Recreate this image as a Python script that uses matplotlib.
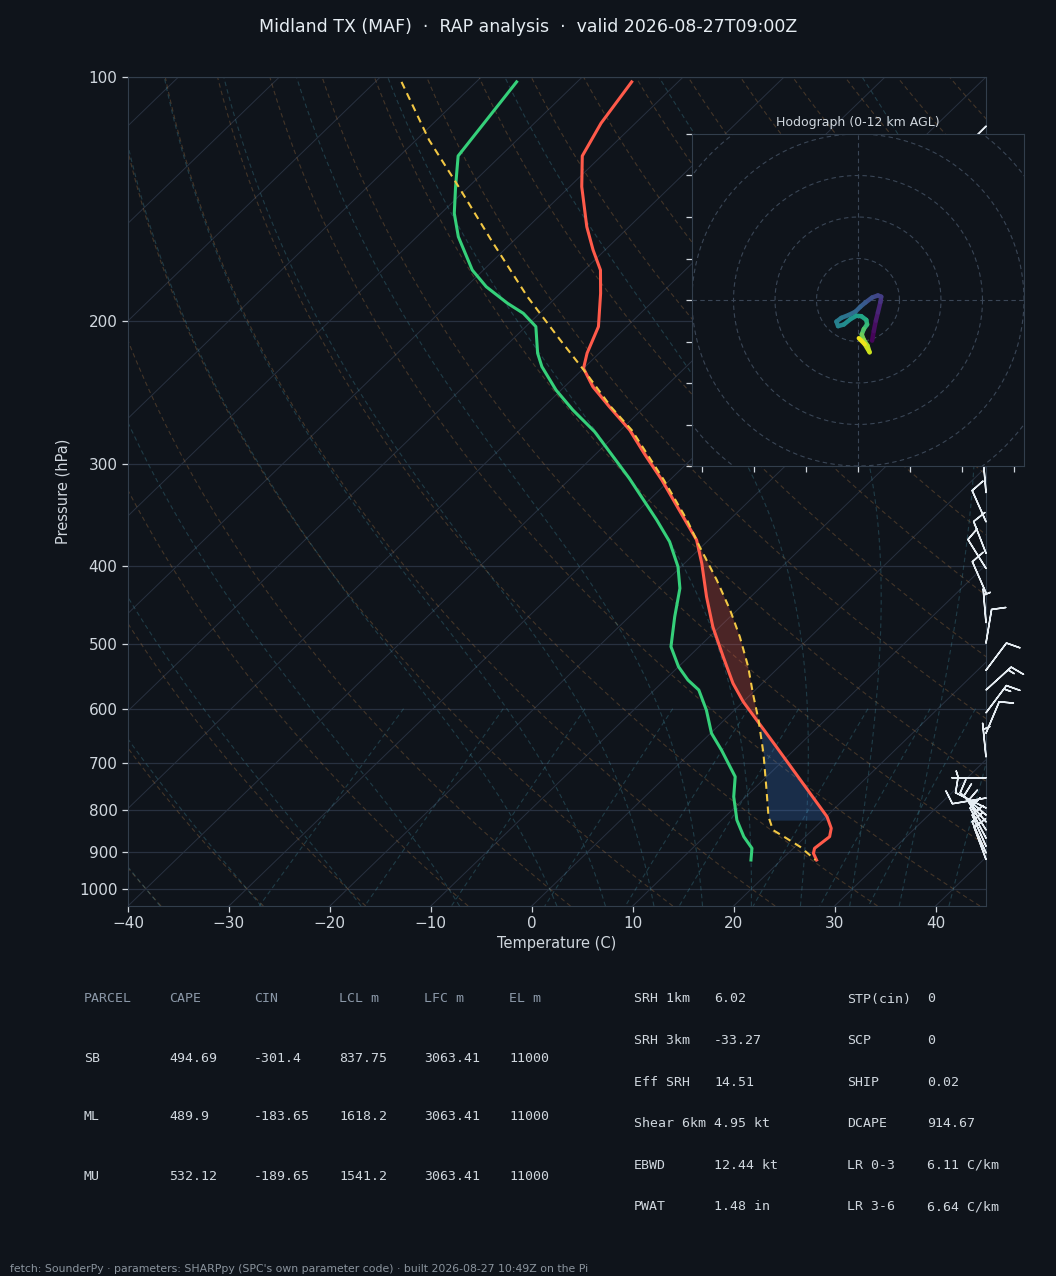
import numpy as np
import matplotlib
matplotlib.use('Agg')
import matplotlib.pyplot as plt
from matplotlib.collections import LineCollection
from matplotlib.ticker import FixedLocator, NullLocator, FixedFormatter

# ---- sounding ----
pres_t = [101.4, 114.0, 125.1, 136.5, 152.9, 163.3, 172.9, 184.7, 203.0, 218.9, 228.5,
          240.7, 254.8, 272.2, 292.2, 313.6, 351.3, 371.8, 397.2, 436.7, 475.5, 517.7,
          558.3, 588.2, 622.5, 661.9, 734.5, 815.1, 842.3, 862.6, 891.5, 904.2, 921.6]
temp = [-74.6, -73.4, -71.9, -68.8, -64.2, -61.2, -58.4, -56.0, -52.8, -51.2, -50.0,
        -47.2, -43.5, -39.1, -35.0, -30.8, -24.4, -21.2, -18.3, -14.4, -10.7, -6.6,
        -2.9, 0.0, 3.5, 7.3, 13.7, 20.1, 21.7, 22.4, 22.1, 22.5, 23.5]

pres_td = [101.4, 125.1, 136.5, 147.2, 157.3, 172.9, 181.3, 190.0, 195.5, 203.0, 218.9,
           227.4, 243.0, 257.1, 273.5, 312.1, 351.3, 373.6, 401.1, 426.4, 462.2, 503.2,
           532.6, 553.1, 569.0, 602.2, 643.4, 674.6, 727.7, 770.1, 822.7, 862.6, 891.5, 921.6]
dewp = [-86.0, -84.2, -81.3, -78.7, -75.9, -71.1, -68.0, -64.2, -61.6, -59.0, -56.1,
        -54.3, -50.5, -46.8, -42.4, -34.2, -27.2, -23.7, -20.3, -17.9, -15.5, -12.8,
        -10.0, -7.7, -5.6, -2.8, 0.1, 2.8, 6.9, 8.8, 11.5, 13.9, 15.9, 17.0]

pres_parcel = [101.4, 119.6, 136.5, 158.8, 186.5, 210.9, 230.7, 255.0, 272.2, 313.6, 351.3,
               379.0, 416.5, 453.5, 489.2, 532.6, 574.4, 619.6, 681.0, 748.6, 815.1, 846.4,
               866.6, 887.5, 921.6]
parcel = [-97.4, -88.7, -81.0, -72.3, -62.9, -55.2, -49.5, -43.3, -38.9, -30.6, -24.2,
          -20.2, -15.1, -10.7, -7.0, -3.1, 0.1, 3.4, 7.3, 11.0, 14.3, 16.1,
          18.3, 20.5, 23.4]
lcl_p = 823

# wind barbs (kt)
barb_p = [115, 140, 170, 200, 230, 260, 290, 325, 353, 386, 403, 432, 470, 498, 538, 569,
          607, 643, 688, 730, 773, 795, 811, 827, 846, 866, 886, 903, 920]
barb_u = [5.5, 2, 1, 3, 2, 1, 0.5, 0.5, 4, 3.5, 5, 3.5, 0.5, -1.5, -6, -11,
          -9, -4, 0.5, 5, 10, 8, 7, 6, 5, 4.5, 4, 4, 3.5]
barb_v = [5.5, -9, -10, -12, -11, -9, -8, -6, -9, -9, -8, -8, -6, -9, -8, -10,
          -12, -9.5, -5, 0, 1.7, -4, -6, -7, -8, -8.5, -9, -9, -9.5]

# hodograph 0-12 km (kt)
hodo_z = [0.0, 0.3, 0.6, 1.0, 1.5, 2.0, 2.3, 2.7, 3.1, 3.5, 3.9, 4.3, 4.7, 5.0, 5.3, 5.6,
          6.0, 6.4, 6.8, 7.3, 7.8, 8.4, 9.0, 9.6, 10.2, 10.8, 11.4, 12.0]
hodo_u = [3.4, 3.8, 4.3, 4.8, 5.4, 5.6, 4.8, 3.4, 1.8, 0.6, -0.6, -2.2, -4.0, -5.2, -4.8, -3.4,
          -1.8, -0.4, 0.8, 2.0, 2.2, 1.4, 0.9, 1.4, 2.3, 2.8, 1.6, 0.2]
hodo_v = [-9.8, -7.5, -5.0, -3.0, -0.5, 0.8, 1.1, 0.6, -0.6, -1.6, -2.8, -3.6, -4.3, -5.2, -6.3, -5.9,
          -4.6, -3.8, -3.9, -4.8, -5.9, -7.0, -8.3, -9.6, -11.0, -12.6, -10.6, -9.2]

parcel_rows = [['SB', '494.69', '-301.4', '837.75', '3063.41', '11000'],
               ['ML', '489.9', '-183.65', '1618.2', '3063.41', '11000'],
               ['MU', '532.12', '-189.65', '1541.2', '3063.41', '11000']]
parcel_head = ['PARCEL', 'CAPE', 'CIN', 'LCL m', 'LFC m', 'EL m']
params_a = [('SRH 1km', '6.02'), ('SRH 3km', '-33.27'), ('Eff SRH', '14.51'),
            ('Shear 6km', '4.95 kt'), ('EBWD', '12.44 kt'), ('PWAT', '1.48 in')]
params_b = [('STP(cin)', '0'), ('SCP', '0'), ('SHIP', '0.02'),
            ('DCAPE', '914.67'), ('LR 0-3', '6.11 C/km'), ('LR 3-6', '6.64 C/km')]

BG = '#0f141b'
FG = '#d0d7de'
GRID = '#283140'
SPINE = '#323e4c'

P_BOT, P_TOP = 1050.0, 100.0
T_L, T_R = -40.0, 45.0


def skew(t, p):
    p = np.asarray(p, dtype=float)
    return np.asarray(t, dtype=float) + (T_R - T_L) * np.log(P_BOT / p) / np.log(P_BOT / P_TOP)


fig = plt.figure(figsize=(10.56, 12.76), dpi=100, facecolor=BG)
ax = fig.add_axes([128 / 1056, 1 - 906 / 1276, 858 / 1056, 829 / 1276], facecolor=BG)
ax.set_yscale('log')
ax.set_ylim(P_BOT, P_TOP)
ax.set_xlim(T_L, T_R)

pp = np.geomspace(P_BOT, P_TOP, 120)
# isotherms
for t0 in range(-130, 50, 10):
    ax.plot(skew(t0, pp), pp, color=GRID, lw=0.7, zorder=1)
for pl in range(100, 1001, 100):
    ax.axhline(pl, color=GRID, lw=0.9, zorder=1)
# dry adiabats
for th in np.arange(-40, 246, 10):
    tk = (th + 273.15) * (pp / 1000.0) ** 0.2857 - 273.15
    ax.plot(skew(tk, pp), pp, color='#c98a4a', alpha=0.28, lw=0.8, ls=(0, (4, 3)), zorder=1)


# moist adiabats
def dtdp(T, p):
    es = 6.112 * np.exp(17.67 * (T - 273.15) / (T - 29.65))
    rs = 0.622 * es / (p - es)
    return (287.04 * T + 2.501e6 * rs) / (1005.7 + 2.501e6 ** 2 * rs * 0.622 / (287.04 * T * T)) / p


def moist(t0):
    out = {}
    for pend in (P_TOP, P_BOT):
        ps = np.linspace(1000.0, pend, 200)
        T = t0 + 273.15
        res = [T]
        for i in range(len(ps) - 1):
            dp = ps[i + 1] - ps[i]
            k1 = dtdp(T, ps[i])
            k2 = dtdp(T + k1 * dp, ps[i + 1])
            T = T + 0.5 * (k1 + k2) * dp
            res.append(T)
        out[pend] = (ps, np.array(res) - 273.15)
    ps = np.concatenate([out[P_BOT][0][::-1], out[P_TOP][0][1:]])
    ts = np.concatenate([out[P_BOT][1][::-1], out[P_TOP][1][1:]])
    return ps, ts


for t0 in list(range(-40, 0, 10)) + list(range(0, 50, 5)):
    ps, ts = moist(t0)
    ax.plot(skew(ts, ps), ps, color='#4aa3b8', alpha=0.28, lw=0.8, ls=(0, (4, 3)), zorder=1)

# mixing ratio lines
pm = np.linspace(600, P_BOT, 50)
for w in [0.0004, 0.001, 0.002, 0.004, 0.007, 0.01, 0.016, 0.024, 0.032]:
    e = pm * w / (0.622 + w)
    lne = np.log(e / 6.112)
    td = 243.5 * lne / (17.67 - lne)
    ax.plot(skew(td, pm), pm, color='#4aa3b8', alpha=0.28, lw=0.8, ls=(0, (4, 3)), zorder=1)

# CAPE / CIN shading
pc = np.geomspace(lcl_p, 600, 300)
te = np.interp(np.log(pc), np.log(pres_t), temp)
tp = np.interp(np.log(pc), np.log(pres_parcel), parcel)
ax.fill_betweenx(pc, skew(tp, pc), skew(te, pc), where=tp < te, color='#3a7bd5',
                 alpha=0.25, lw=0, zorder=2)
pa = np.geomspace(650, 220, 400)
te = np.interp(np.log(pa), np.log(pres_t), temp)
tp = np.interp(np.log(pa), np.log(pres_parcel), parcel)
ax.fill_betweenx(pa, skew(tp, pa), skew(te, pa), where=tp > te, color='#ff5a4a',
                 alpha=0.25, lw=0, zorder=2)

ax.plot(skew(temp, pres_t), pres_t, color='#ff5a4a', lw=2.2, zorder=4)
ax.plot(skew(dewp, pres_td), pres_td, color='#35d07a', lw=2.2, zorder=4)
ax.plot(skew(parcel, pres_parcel), pres_parcel, color='#f2c744', lw=1.5, ls=(0, (3.5, 2.5)), zorder=5)

ax.barbs(np.ones(len(barb_p)), barb_p, barb_u, barb_v, transform=ax.get_yaxis_transform(),
         clip_on=False, color='#e6edf3', length=7, linewidth=1.1, zorder=6)

yt = list(range(100, 1001, 100))
ax.yaxis.set_major_locator(FixedLocator(yt))
ax.yaxis.set_major_formatter(FixedFormatter([str(v) for v in yt]))
ax.yaxis.set_minor_locator(NullLocator())
ax.set_xticks(range(-40, 41, 10))
ax.tick_params(colors=FG, labelsize=11, length=4, width=0.9)
for s in ax.spines.values():
    s.set_color(SPINE)
ax.set_xlabel('Temperature (C)', color=FG, fontsize=10.5, labelpad=3)
ax.set_ylabel('Pressure (hPa)', color=FG, fontsize=10.5, labelpad=6)

fig.text(0.5, 1 - 27 / 1276, 'Midland TX (MAF)  \u00b7  RAP analysis  \u00b7  valid 2026-08-27T09:00Z',
         ha='center', va='center', color='#e6edf3', fontsize=12.5)

# hodograph
hx = fig.add_axes([692 / 1056, 1 - 466 / 1276, 332 / 1056, 332 / 1276], facecolor=BG)
hx.set_xlim(-40, 40)
hx.set_ylim(-40, 40)
th = np.linspace(0, 2 * np.pi, 300)
for r in range(10, 61, 10):
    hx.plot(r * np.cos(th), r * np.sin(th), color='#3a4656', lw=0.8, ls=(0, (4, 3)))
hx.axhline(0, color='#3a4656', lw=0.8, ls=(0, (4, 3)))
hx.axvline(0, color='#3a4656', lw=0.8, ls=(0, (4, 3)))
pts = np.column_stack([hodo_u, hodo_v]).reshape(-1, 1, 2)
segs = np.concatenate([pts[:-1], pts[1:]], axis=1)
lc = LineCollection(segs, cmap='viridis', linewidths=3.2, capstyle='round')
lc.set_array(np.array(hodo_z[:-1]) + np.diff(hodo_z) / 2)
lc.set_clim(0, 12)
hx.add_collection(lc)
hx.set_yticks(range(-40, 41, 10))
hx.set_xticks(np.arange(-37.5, 38, 12.5))
hx.set_xticklabels([])
hx.set_yticklabels([])
hx.tick_params(colors=FG, length=4, width=0.9)
for s in hx.spines.values():
    s.set_color(SPINE)
hx.set_title('Hodograph (0-12 km AGL)', color=FG, fontsize=9, pad=6)


def px(x, y):
    return x / 1056, 1 - y / 1276


mono = 'DejaVu Sans Mono'
cols = [84, 169, 254, 339, 424, 509]
for c, h in zip(cols, parcel_head):
    fig.text(*px(c, 999), h, color='#8b98a8', fontsize=9.5, family=mono, va='center')
for r, row in enumerate(parcel_rows):
    for c, v in zip(cols, row):
        fig.text(*px(c, 1058 + 59 * r), v, color=FG, fontsize=9.5, family=mono, va='center')
for i, ((la, va), (lb, vb)) in enumerate(zip(params_a, params_b)):
    y = 999 + 41.6 * i
    fig.text(*px(634, y), la, color=FG, fontsize=9.5, family=mono, va='center')
    fig.text(*px(714, y), va, color=FG, fontsize=9.5, family=mono, va='center')
    fig.text(*px(847, y), lb, color=FG, fontsize=9.5, family=mono, va='center')
    fig.text(*px(927, y), vb, color=FG, fontsize=9.5, family=mono, va='center')

fig.text(*px(10, 1269), "fetch: SounderPy \u00b7 parameters: SHARPpy (SPC's own parameter code) \u00b7 "
         "built 2026-08-27 10:49Z on the Pi", color='#8b949e', fontsize=7.8, va='center')

fig.savefig('out.png', dpi=100, facecolor=BG)
